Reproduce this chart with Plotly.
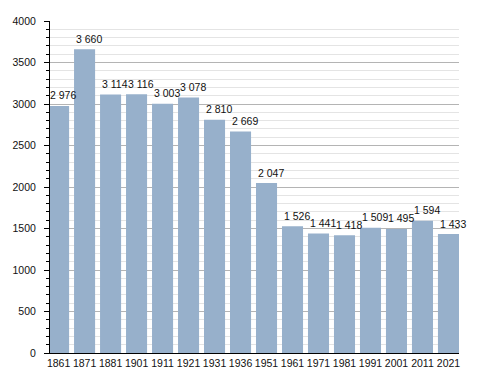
import plotly.graph_objects as go

years = ["1861", "1871", "1881", "1901", "1911", "1921", "1931", "1936",
         "1951", "1961", "1971", "1981", "1991", "2001", "2011", "2021"]
population = [2976, 3660, 3114, 3116, 3003, 3078, 2810, 2669,
              2047, 1526, 1441, 1418, 1509, 1495, 1594, 1433]
labels = [f"{v:,}".replace(",", " ") for v in population]

font_family = "Liberation Sans, Arial, sans-serif"
fsize = 10.5

fig = go.Figure(go.Bar(
    x=years,
    y=population,
    marker=dict(color="#97B0CB", line=dict(width=0)),
    hoverinfo="x+y",
))

for i, (v, lab) in enumerate(zip(population, labels)):
    fig.add_annotation(
        x=i, y=v, xref="x", yref="y", text=lab, showarrow=False,
        xanchor="left", yanchor="bottom",
        xshift=-10.5, yshift=2.5,
        font=dict(family=font_family, size=fsize, color="#111"),
    )

# the page body has an 8px default margin, so the figure is sized to fit
fig.update_layout(
    width=480, height=365,
    margin=dict(l=42, r=29, t=13, b=20, autoexpand=False),
    paper_bgcolor="white", plot_bgcolor="white",
    bargap=0.19,
    showlegend=False,
    font=dict(family=font_family, size=fsize, color="#111"),
)

fig.update_xaxes(
    type="category",
    range=[-0.33, 15.405],
    automargin=False,
    tickangle=0,
    showline=True, linecolor="black", linewidth=1,
    showgrid=False, ticks="",
    tickfont=dict(size=fsize),
    fixedrange=True,
)

fig.update_yaxes(
    range=[0, 4000],
    dtick=500,
    automargin=False,
    showline=True, linecolor="black", linewidth=1,
    showgrid=True, gridcolor="#b4b4b4", gridwidth=1,
    ticks="outside", ticklen=5, tickcolor="black", tickwidth=1,
    ticklabelstandoff=6,
    tickfont=dict(size=fsize),
    zeroline=False,
    minor=dict(dtick=100, showgrid=True, gridcolor="#e4e4e4", gridwidth=1,
               ticks="outside", ticklen=3, tickcolor="black"),
    fixedrange=True,
)

fig.write_html("out.html")
